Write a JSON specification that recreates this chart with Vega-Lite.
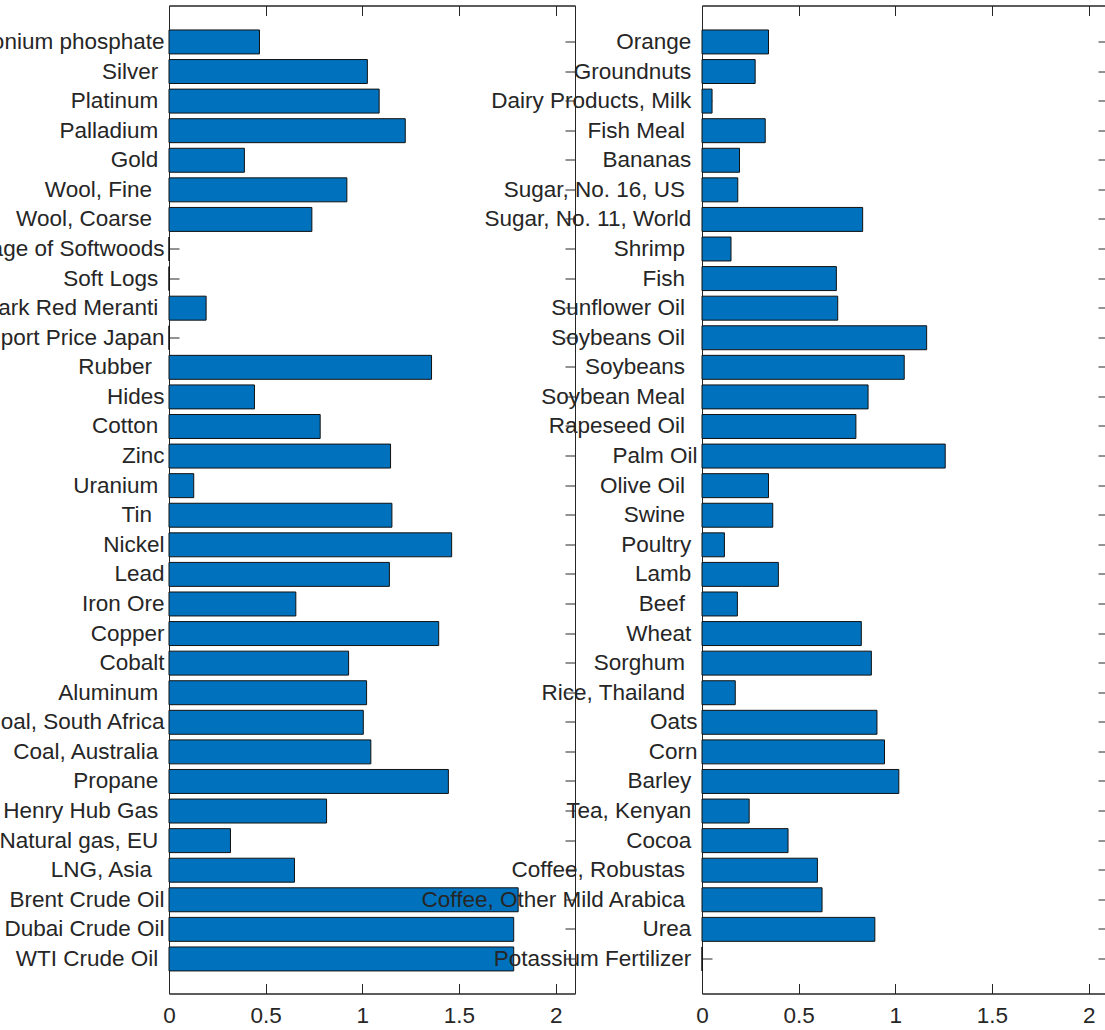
{
  "$schema": "https://vega.github.io/schema/vega-lite/v6.json",
  "background": "white",
  "padding": {"left": -226, "top": 4.5, "right": 0, "bottom": 0},
  "spacing": 127,
  "bounds": "flush",
  "config": {
    "view": {"stroke": "#262626", "strokeWidth": 1},
    "axis": {
      "labelFont": "Liberation Sans",
      "labelFontSize": 22.5,
      "labelColor": "#262626",
      "domainColor": "#262626",
      "domainWidth": 1,
      "tickColor": "#262626",
      "tickWidth": 1,
      "grid": false,
      "zindex": 1,
      "labelLimit": 0,
      "labelOverlap": false,
      "labelFlush": false,
      "labelBound": false,
      "title": null
    }
  },
  "datasets": {
    "metals": [
      {"commodity": "Diammonium phosphate", "value": 0.468},
      {"commodity": "Silver\u00a0\u200b", "value": 1.026},
      {"commodity": "Platinum\u00a0\u200b", "value": 1.087},
      {"commodity": "Palladium\u00a0\u200b", "value": 1.222},
      {"commodity": "Gold\u00a0\u200b", "value": 0.39},
      {"commodity": "Wool, Fine\u00a0\u00a0\u200b", "value": 0.92},
      {"commodity": "Wool, Coarse\u00a0\u00a0\u200b", "value": 0.739},
      {"commodity": "Soft Sawnwood, Average of Softwoods", "value": 0},
      {"commodity": "Soft Logs\u00a0\u200b", "value": 0},
      {"commodity": "Hard Sawnwood, Dark Red Meranti\u00a0\u200b", "value": 0.192},
      {"commodity": "Hard Logs, Import Price Japan", "value": 0},
      {"commodity": "Rubber\u00a0\u00a0\u200b", "value": 1.358},
      {"commodity": "Hides", "value": 0.442},
      {"commodity": "Cotton\u00a0\u200b", "value": 0.782},
      {"commodity": "Zinc", "value": 1.146},
      {"commodity": "Uranium\u00a0\u200b", "value": 0.128},
      {"commodity": "Tin\u00a0\u00a0\u200b", "value": 1.153},
      {"commodity": "Nickel", "value": 1.462},
      {"commodity": "Lead", "value": 1.14},
      {"commodity": "Iron Ore", "value": 0.656},
      {"commodity": "Copper", "value": 1.395},
      {"commodity": "Cobalt", "value": 0.929},
      {"commodity": "Aluminum\u00a0\u200b", "value": 1.022},
      {"commodity": "Coal, South Africa", "value": 1.005},
      {"commodity": "Coal, Australia\u00a0\u200b", "value": 1.044},
      {"commodity": "Propane\u00a0\u200b", "value": 1.445},
      {"commodity": "Henry Hub Gas\u00a0\u200b", "value": 0.815},
      {"commodity": "Natural gas, EU\u00a0\u200b", "value": 0.318},
      {"commodity": "LNG, Asia\u00a0\u00a0\u200b", "value": 0.649},
      {"commodity": "Brent Crude Oil", "value": 1.806},
      {"commodity": "Dubai Crude Oil", "value": 1.783},
      {"commodity": "WTI Crude Oil\u00a0\u200b", "value": 1.783}
    ],
    "agri": [
      {"commodity": "Orange\u00a0\u200b", "value": 0.344},
      {"commodity": "Groundnuts\u00a0\u200b", "value": 0.275},
      {"commodity": "Dairy Products, Milk\u00a0\u200b", "value": 0.052},
      {"commodity": "Fish Meal\u00a0\u00a0\u200b", "value": 0.327},
      {"commodity": "Bananas\u00a0\u200b", "value": 0.194},
      {"commodity": "Sugar, No. 16, US\u00a0\u00a0\u200b", "value": 0.185},
      {"commodity": "Sugar, No. 11, World\u00a0\u200b", "value": 0.831},
      {"commodity": "Shrimp\u00a0\u00a0\u200b", "value": 0.15},
      {"commodity": "Fish\u00a0\u00a0\u200b", "value": 0.695},
      {"commodity": "Sunflower Oil\u00a0\u00a0\u200b", "value": 0.702},
      {"commodity": "Soybeans Oil\u00a0\u00a0\u200b", "value": 1.162},
      {"commodity": "Soybeans\u00a0\u00a0\u200b", "value": 1.046},
      {"commodity": "Soybean Meal\u00a0\u00a0\u200b", "value": 0.859},
      {"commodity": "Rapeseed Oil\u00a0\u00a0\u200b", "value": 0.796},
      {"commodity": "Palm Oil", "value": 1.258},
      {"commodity": "Olive Oil\u00a0\u00a0\u200b", "value": 0.344},
      {"commodity": "Swine\u00a0\u00a0\u200b", "value": 0.366},
      {"commodity": "Poultry\u00a0\u200b", "value": 0.116},
      {"commodity": "Lamb\u00a0\u200b", "value": 0.395},
      {"commodity": "Beef\u00a0\u00a0\u200b", "value": 0.183},
      {"commodity": "Wheat\u00a0\u200b", "value": 0.824},
      {"commodity": "Sorghum\u00a0\u00a0\u200b", "value": 0.876},
      {"commodity": "Rice, Thailand\u00a0\u00a0\u200b", "value": 0.172},
      {"commodity": "Oats", "value": 0.905},
      {"commodity": "Corn", "value": 0.944},
      {"commodity": "Barley\u00a0\u200b", "value": 1.018},
      {"commodity": "Tea, Kenyan\u00a0\u200b", "value": 0.244},
      {"commodity": "Cocoa\u00a0\u200b", "value": 0.445},
      {"commodity": "Coffee, Robustas\u00a0\u00a0\u200b", "value": 0.597},
      {"commodity": "Coffee, Other Mild Arabica\u00a0\u00a0\u200b", "value": 0.621},
      {"commodity": "Urea\u00a0\u200b", "value": 0.894},
      {"commodity": "Potassium Fertilizer\u00a0\u200b", "value": 0}
    ]
  },
  "hconcat": [
    {
      "width": 406,
      "height": 988,
      "data": {"name": "metals"},
      "layer": [
        {
          "mark": {"type": "bar", "fill": "#0072BD", "stroke": "#111111", "strokeWidth": 1},
          "encoding": {
            "y": {"field": "commodity", "type": "nominal", "sort": null,
                  "scale": {"paddingInner": 0.19, "paddingOuter": 0.795, "align": 0.52},
                  "axis": {"orient": "left", "tickSize": -10, "labelPadding": 15}},
            "x": {"field": "value", "type": "quantitative",
                  "scale": {"domain": [0, 2.1], "nice": false, "zero": true},
                  "axis": {"orient": "bottom", "values": [0, 0.5, 1, 1.5, 2], "format": "~g", "tickSize": -10, "labelPadding": 21}}
          }
        },
        {
          "mark": {"type": "bar", "opacity": 0, "strokeOpacity": 0},
          "encoding": {
            "y": {"field": "commodity", "type": "nominal", "sort": null,
                  "axis": {"orient": "right", "labels": false, "tickSize": -10}},
            "x": {"field": "value", "type": "quantitative",
                  "axis": {"orient": "top", "labels": false, "values": [0, 0.5, 1, 1.5, 2], "tickSize": -10}}
          }
        }
      ],
      "resolve": {"axis": {"x": "independent", "y": "independent"}}
    },
    {
      "width": 406,
      "height": 988,
      "data": {"name": "agri"},
      "layer": [
        {
          "mark": {"type": "bar", "fill": "#0072BD", "stroke": "#111111", "strokeWidth": 1},
          "encoding": {
            "y": {"field": "commodity", "type": "nominal", "sort": null,
                  "scale": {"paddingInner": 0.19, "paddingOuter": 0.795, "align": 0.52},
                  "axis": {"orient": "left", "tickSize": -10, "labelPadding": 15}},
            "x": {"field": "value", "type": "quantitative",
                  "scale": {"domain": [0, 2.1], "nice": false, "zero": true},
                  "axis": {"orient": "bottom", "values": [0, 0.5, 1, 1.5, 2], "format": "~g", "tickSize": -10, "labelPadding": 21}}
          }
        },
        {
          "mark": {"type": "bar", "opacity": 0, "strokeOpacity": 0},
          "encoding": {
            "y": {"field": "commodity", "type": "nominal", "sort": null,
                  "axis": {"orient": "right", "labels": false, "tickSize": -10}},
            "x": {"field": "value", "type": "quantitative",
                  "axis": {"orient": "top", "labels": false, "values": [0, 0.5, 1, 1.5, 2], "tickSize": -10}}
          }
        }
      ],
      "resolve": {"axis": {"x": "independent", "y": "independent"}}
    }
  ]
}
